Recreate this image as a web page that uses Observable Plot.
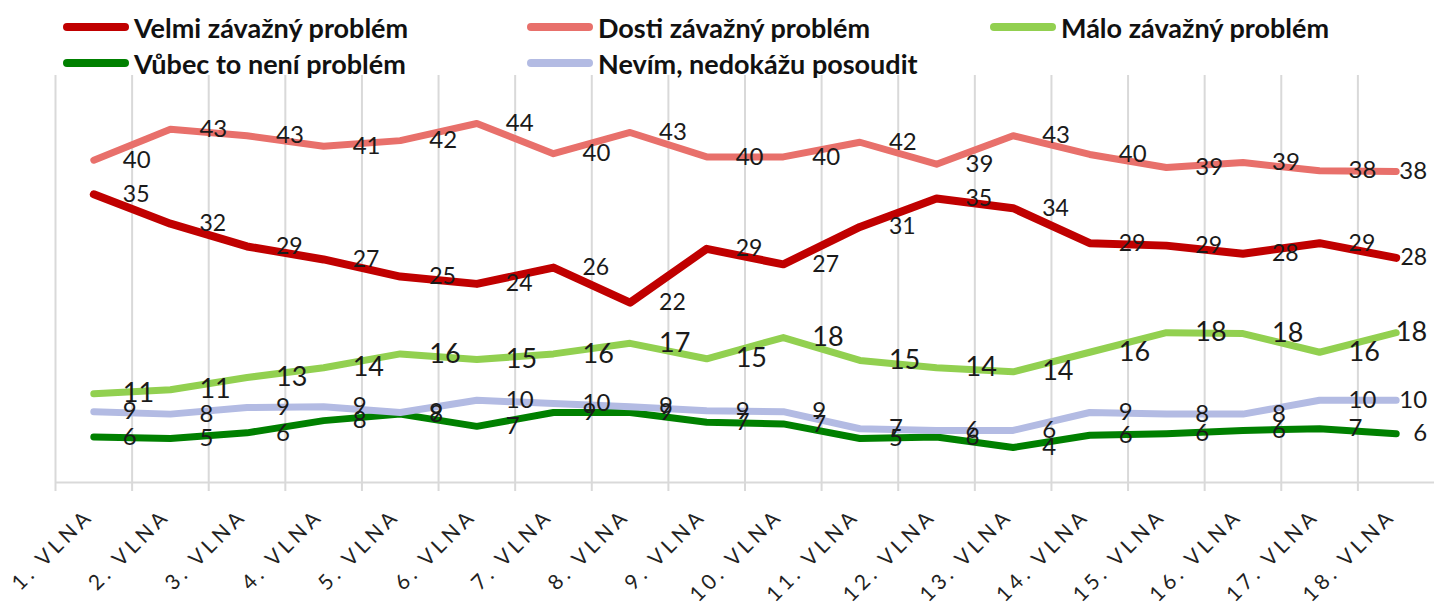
<!DOCTYPE html>
<html><head><meta charset="utf-8">
<script src="https://cdn.jsdelivr.net/npm/d3@7"></script>
<script src="https://cdn.jsdelivr.net/npm/@observablehq/plot@0.6"></script>
<style>
body{margin:0;background:#fff;font-family:Lato,sans-serif;}
#legend{position:relative;height:75px;width:1434px;}
.item{position:absolute;display:flex;align-items:center;height:36px;font-weight:bold;font-size:27px;color:#111;white-space:nowrap;}
.sw{width:66px;height:8px;border-radius:4px;margin-right:5px;}
#chart svg g[aria-label="x-axis tick label"] text{letter-spacing:4px;}
</style></head>
<body><div id="legend"></div><div id="chart"></div>
<script>
const categories = ["1. VLNA","2. VLNA","3. VLNA","4. VLNA","5. VLNA","6. VLNA","7. VLNA","8. VLNA","9. VLNA","10. VLNA","11. VLNA","12. VLNA","13. VLNA","14. VLNA","15. VLNA","16. VLNA","17. VLNA","18. VLNA"];
const seriesNames = ["Velmi závažný problém","Dosti závažný problém","Málo závažný problém","Vůbec to není problém","Nevím, nedokážu posoudit"];
const velmi = [35.4,31.8,29.0,27.4,25.3,24.4,26.4,22.1,28.7,26.8,31.4,34.9,33.7,29.4,29.1,28.1,29.4,27.6];
const dosti = [39.6,43.4,42.6,41.3,42.0,44.1,40.4,43.0,40.0,40.0,41.8,39.1,42.6,40.3,38.7,39.3,38.3,38.2];
const malo  = [10.9,11.4,12.9,14.1,15.8,15.1,15.8,17.1,15.2,17.8,15.0,14.1,13.6,16.0,18.4,18.3,16.0,18.4];
const vubec = [5.6,5.4,6.1,7.6,8.4,6.9,8.6,8.6,7.4,7.2,5.4,5.6,4.3,5.8,6.0,6.4,6.6,6.0];
const nevim = [8.7,8.4,9.2,9.3,8.6,10.1,9.7,9.3,8.8,8.7,6.6,6.4,6.4,8.6,8.4,8.4,10.1,10.1];
const seriesValues = [velmi, dosti, malo, vubec, nevim];
const seriesColors = ["#C00000","#E8706B","#92D050","#008000","#B3BBE3"];
const lineWidths = [8,7,7,7,7];
const labelSizes = [23,24,27,24,24];

// legend
const legendPos = [[63,9],[527,9],[990,9],[63,45],[527,45]];
const legend = document.getElementById("legend");
seriesNames.forEach((n,k)=>{
  const it = document.createElement("div");
  it.className="item";
  it.style.left = legendPos[k][0]+"px";
  it.style.top = legendPos[k][1]+"px";
  it.innerHTML = `<span class="sw" style="background:${seriesColors[k]}"></span><span>${n}</span>`;
  legend.appendChild(it);
});

const rows = [];
seriesNames.forEach((s,k)=>seriesValues[k].forEach((v,i)=>rows.push({series:s, k, cat:categories[i], i, value:v, size:labelSizes[k]})));
const last = categories.length-1;
const fmt = d3.format(".0f");
const W = 1434, ML = 55;
const step = (W-ML)/categories.length;

const marks = [
  Plot.ruleX(categories, {x: d=>d, dx: -step/2, stroke:"#d9d9d9", strokeWidth:2, insetBottom:-9}),
  Plot.ruleY([0], {stroke:"#d9d9d9", strokeWidth:2}),
];
seriesNames.forEach((s,k)=>{
  marks.push(Plot.line(rows.filter(d=>d.k===k), {x:"cat", y:"value", stroke: seriesColors[k], strokeWidth: lineWidths[k], strokeLinejoin:"round", strokeLinecap:"round"}));
});
marks.push(Plot.text(rows.filter(d=>d.i!==last), {x:"cat", y:"value", text:d=>fmt(d.value), dx:29, textAnchor:"start", fontSize:"size", fill:"#1a1a1a"}));
marks.push(Plot.text(rows.filter(d=>d.i===last), {x:"cat", y:"value", text:d=>fmt(d.value), dx:31, textAnchor:"end", fontSize:"size", fill:"#1a1a1a"}));
marks.push(Plot.axisX({tickRotate:-45, tickSize:0, tickPadding:30, fontSize:21, dx:-4, fill:"#222", label:null}));

const chart = Plot.plot({
  width: W, height: 534,
  marginLeft: ML, marginRight: 0, marginTop: 0, marginBottom: 127,
  style: {fontFamily:"Lato, sans-serif", background:"white", overflow:"visible"},
  x: {type:"point", domain: categories, padding: 0.5, round:false, axis: null, label:null},
  y: {domain:[0,50], axis: null},
  marks
});
document.getElementById("chart").appendChild(chart);
</script>
</body></html>
